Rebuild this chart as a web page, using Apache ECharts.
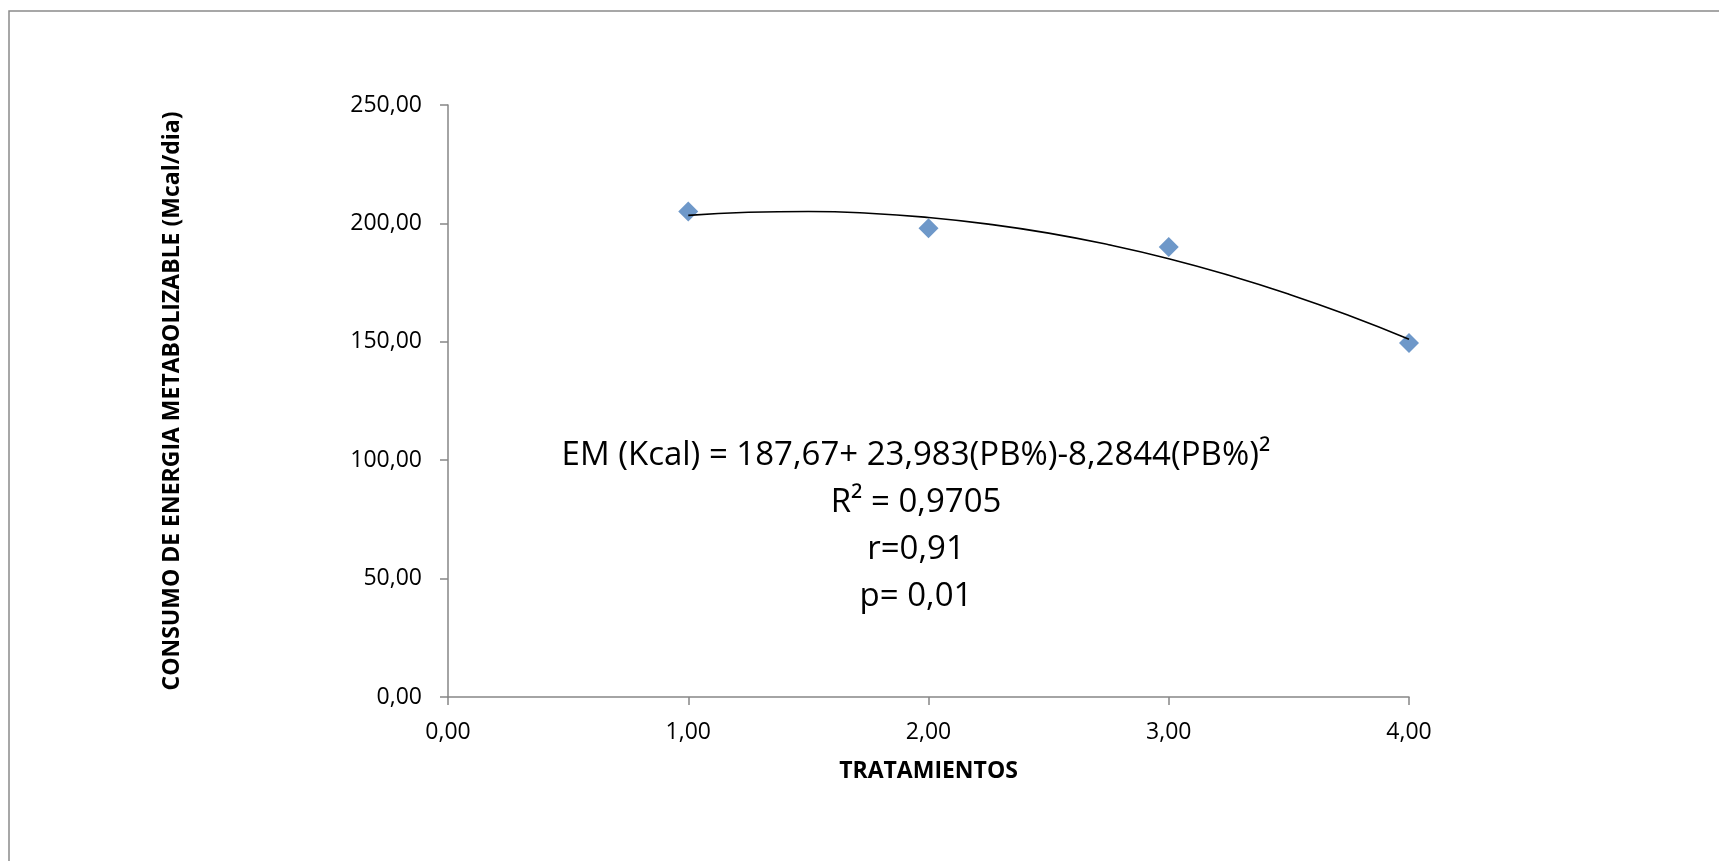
<!DOCTYPE html>
<html>
<head>
<meta charset="utf-8">
<script src="https://cdn.jsdelivr.net/npm/echarts@6/dist/echarts.min.js"></script>
<style>
  html, body { margin: 0; padding: 0; background: #fff; }
  #chart { width: 1719px; height: 861px; }
</style>
</head>
<body>
<div id="chart"></div>
<script>
// ---- data ----
const treatments = [1, 2, 3, 4];
const energyValues = [205.0, 198.0, 190.0, 149.5];

// trend line (polynomial shown on the chart) read at regular x positions
const trendX = [1, 1.25, 1.5, 1.75, 2, 2.25, 2.5, 2.75, 3, 3.25, 3.5, 3.75, 4];
const trendY = [203.4, 204.7, 205.0, 204.3, 202.5, 199.7, 195.9, 191.0, 185.1, 178.1, 170.1, 161.1, 151.1];

const xTicks = [0, 1, 2, 3, 4];
const xTickLabels = ['0,00', '1,00', '2,00', '3,00', '4,00'];
const yTicks = [0, 50, 100, 150, 200, 250];
const yTickLabels = ['0,00', '50,00', '100,00', '150,00', '200,00', '250,00'];

const annotationLines = [
  'EM (Kcal) = 187,67+ 23,983(PB%)-8,2844(PB%)\u00B2',
  'R\u00B2 = 0,9705',
  'r=0,91',
  'p= 0,01'
];

const xTitle = 'TRATAMIENTOS';
const yTitle = 'CONSUMO DE ENERGIA METABOLIZABLE (Mcal/dia)';

// ---- chart ----
const FONT = 'Open Sans';
const AXIS_COLOR = '#868686';

const chart = echarts.init(document.getElementById('chart'), null, { renderer: 'canvas' });

function lookup(ticks, labels) {
  return function (v) {
    const i = ticks.findIndex(t => Math.abs(t - v) < 1e-9);
    return i >= 0 ? labels[i] : '';
  };
}

const option = {
  backgroundColor: '#ffffff',
  animation: false,
  grid: { left: 448, right: 310, top: 105, bottom: 164, containLabel: false },
  xAxis: {
    type: 'value',
    min: 0, max: 4, interval: 1,
    name: xTitle,
    nameLocation: 'middle',
    nameGap: 63,
    nameTextStyle: { fontFamily: FONT, fontWeight: 'bold', fontSize: 23, color: '#000' },
    axisLine: { show: true, onZero: false, lineStyle: { color: AXIS_COLOR, width: 1.5 } },
    axisTick: { show: true, inside: false, length: 8, lineStyle: { color: AXIS_COLOR, width: 1.5 } },
    axisLabel: { formatter: lookup(xTicks, xTickLabels), fontFamily: FONT, fontSize: 23, color: '#000', margin: 24 },
    splitLine: { show: false }
  },
  yAxis: {
    type: 'value',
    min: 0, max: 250, interval: 50,
    name: yTitle,
    nameLocation: 'middle',
    nameGap: 264,
    nameRotate: 90,
    nameTextStyle: { fontFamily: FONT, fontWeight: 'bold', fontSize: 23, color: '#000' },
    axisLine: { show: true, lineStyle: { color: AXIS_COLOR, width: 1.5 } },
    axisTick: { show: true, inside: false, length: 8, lineStyle: { color: AXIS_COLOR, width: 1.5 } },
    axisLabel: { formatter: lookup(yTicks, yTickLabels), fontFamily: FONT, fontSize: 23, color: '#000', margin: 26 },
    splitLine: { show: false }
  },
  series: [
    {
      type: 'scatter',
      data: treatments.map((x, i) => [x, energyValues[i]]),
      symbol: 'diamond',
      symbolSize: 20,
      itemStyle: { color: '#4a7ebb' },
      z: 2
    },
    {
      type: 'line',
      data: trendX.map((x, i) => [x, trendY[i]]),
      smooth: true,
      showSymbol: false,
      symbol: 'none',
      lineStyle: { color: '#000000', width: 1.6 },
      z: 3
    }
  ],
  graphic: [
    {
      type: 'rect',
      shape: { x: 9, y: 11, width: 3000, height: 3000 },
      style: { fill: 'none', stroke: '#8a8a8a', lineWidth: 1.5 },
      silent: true,
      z: -1
    },
    {
      type: 'text',
      x: 916,
      y: 432,
      style: {
        text: annotationLines.join('\n'),
        fontFamily: FONT,
        fontSize: 33,
        lineHeight: 47,
        fill: '#000',
        align: 'center',
        verticalAlign: 'top'
      },
      z: 10
    }
  ]
};

chart.setOption(option);
</script>
</body>
</html>
